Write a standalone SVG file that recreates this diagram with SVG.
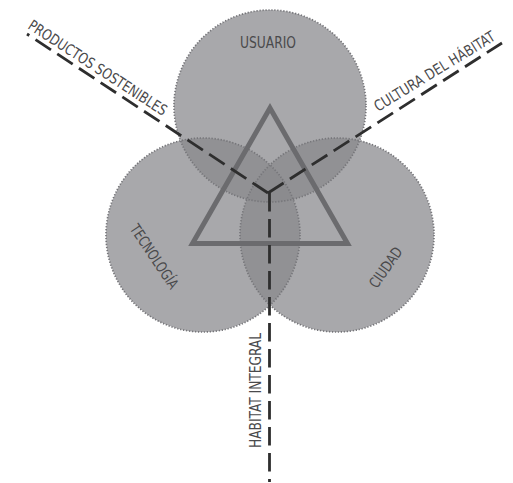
<svg xmlns="http://www.w3.org/2000/svg" width="513" height="483" viewBox="0 0 513 483">
  <style>
    .circ { fill: #a8a8ab; }
    .lens { fill: #919194; }
    .tri3 { fill: #8b8b8e; }
    .dot { fill: none; stroke: #76767a; stroke-width: 1.7; stroke-dasharray: 1.3 1.7; }
    .axis { fill: none; stroke: #2e2e2e; stroke-width: 2.8; stroke-dasharray: 18.5 7.5; }
    .tri { fill: none; stroke: #6b6b6e; stroke-width: 5; stroke-linejoin: miter; }
    .lbl { font-family: 'Liberation Sans Narrow', 'DejaVu Sans Condensed', 'Liberation Sans', sans-serif; font-stretch: condensed; font-size: 15px; fill: #4a4a4c; }
  </style>
  <defs>
    <clipPath id="cTop"><circle cx="270" cy="106" r="96"/></clipPath>
    <clipPath id="cLeft"><circle cx="203" cy="235" r="97"/></clipPath>
    <clipPath id="cRight"><circle cx="337" cy="235" r="97"/></clipPath>
  </defs>
  <rect x="0" y="0" width="513" height="483" fill="#ffffff"/>

  <g id="usuario">
    <circle class="circ" cx="270" cy="106" r="96"/>
  </g>
  <g id="tecnologia">
    <circle class="circ" cx="203" cy="235" r="97"/>
  </g>
  <g id="ciudad">
    <circle class="circ" cx="337" cy="235" r="97"/>
  </g>

  <g id="overlaps">
    <circle class="lens" cx="203" cy="235" r="97" clip-path="url(#cTop)"/>
    <circle class="lens" cx="337" cy="235" r="97" clip-path="url(#cTop)"/>
    <circle class="lens" cx="337" cy="235" r="97" clip-path="url(#cLeft)"/>
    <g clip-path="url(#cTop)">
      <circle class="tri3" cx="337" cy="235" r="97" clip-path="url(#cLeft)"/>
    </g>
  </g>

  <g id="outlines">
    <circle class="dot" cx="270" cy="106" r="96"/>
    <circle class="dot" cx="203" cy="235" r="97"/>
    <circle class="dot" cx="337" cy="235" r="97"/>
  </g>

  <g id="triangle">
    <polygon class="tri" points="270,108 192.5,243.5 347.5,243.5"/>
  </g>

  <g id="connectors">
    <path class="axis" d="M268,193 L27,34"/>
    <path class="axis" d="M268,193 L502,43"/>
    <path class="axis" d="M269.5,193 L269.5,482"/>
  </g>

  <g id="labels">
    <text class="lbl" x="268" y="48" text-anchor="middle" textLength="56" lengthAdjust="spacingAndGlyphs">USUARIO</text>
    <text class="lbl" transform="translate(27,28) rotate(33)" x="0" y="0" textLength="162" lengthAdjust="spacingAndGlyphs">PRODUCTOS SOSTENIBLES</text>
    <text class="lbl" transform="translate(378,112) rotate(-31.5)" x="0" y="0" textLength="139" lengthAdjust="spacingAndGlyphs">CULTURA DEL HÁBITAT</text>
    <text class="lbl" transform="translate(150,259.5) rotate(56)" x="0" y="0" text-anchor="middle" textLength="74" lengthAdjust="spacingAndGlyphs">TECNOLOGÍA</text>
    <text class="lbl" transform="translate(390,270.5) rotate(-55)" x="0" y="0" text-anchor="middle" textLength="46" lengthAdjust="spacingAndGlyphs">CIUDAD</text>
    <text class="lbl" transform="translate(260.5,390.5) rotate(-90)" x="0" y="0" text-anchor="middle" textLength="115" lengthAdjust="spacingAndGlyphs">HABITAT INTEGRAL</text>
  </g>
</svg>
